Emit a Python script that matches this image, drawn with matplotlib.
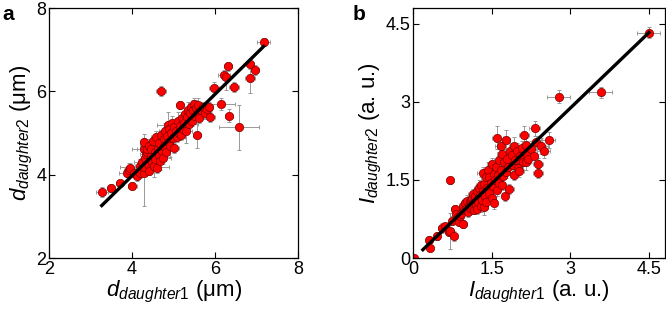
import numpy as np
import matplotlib.pyplot as plt

plt.rcParams['font.family'] = ['Liberation Sans', 'DejaVu Sans']
plt.rcParams['mathtext.fontset'] = 'custom'
plt.rcParams['mathtext.it'] = 'Liberation Sans:italic'
plt.rcParams['mathtext.rm'] = 'Liberation Sans'

# panel a: daughter diameters (um)
d1 = [3.27, 3.50, 3.70, 4.01, 3.88, 3.92, 3.95, 4.05, 4.12, 4.18,
      4.20, 4.25, 4.28, 4.28, 4.30, 4.30, 4.32, 4.34, 4.35, 4.36,
      4.38, 4.40, 4.42, 4.45, 4.46, 4.48, 4.50, 4.52, 4.55, 4.56,
      4.58, 4.60, 4.62, 4.64, 4.66, 4.68, 4.70, 4.70, 4.72, 4.74,
      4.76, 4.78, 4.80, 4.82, 4.84, 4.86, 4.88, 4.90, 4.92, 4.94,
      4.96, 4.98, 5.00, 5.02, 5.05, 5.08, 5.10, 5.12, 5.15, 5.16,
      5.18, 5.20, 5.22, 5.25, 5.28, 5.30, 5.32, 5.35, 5.38, 5.40,
      5.42, 5.45, 5.48, 5.50, 5.52, 5.55, 5.56, 5.58, 5.60, 5.62,
      5.65, 5.70, 5.75, 5.80, 5.85, 5.88, 5.97, 6.14, 6.22, 6.26,
      6.31, 6.33, 6.46, 6.58, 6.84, 6.84, 6.96, 7.17]
d2 = [3.58, 3.68, 3.80, 3.74, 4.05, 4.12, 4.16, 4.05, 3.96, 4.22,
      4.05, 4.30, 4.05, 4.62, 4.78, 4.18, 4.40, 4.50, 4.55, 4.62,
      4.25, 4.70, 4.10, 4.45, 4.62, 4.30, 4.80, 4.20, 4.55, 4.38,
      4.90, 4.15, 4.65, 4.48, 4.75, 4.32, 4.95, 6.00, 4.58, 4.40,
      4.85, 4.70, 5.05, 4.55, 4.92, 5.20, 4.78, 5.10, 4.68, 5.00,
      5.25, 4.88, 5.15, 4.64, 5.05, 4.90, 5.30, 5.00, 5.18, 5.67,
      4.95, 5.35, 5.10, 5.25, 5.45, 5.05, 5.38, 5.55, 5.22, 5.48,
      5.62, 5.30, 5.55, 5.70, 5.40, 5.60, 4.95, 5.50, 5.68, 5.35,
      5.55, 5.62, 5.48, 5.58, 5.62, 5.38, 6.08, 5.70, 6.40, 6.34,
      6.60, 5.42, 6.10, 5.14, 6.32, 6.66, 6.52, 7.18]
d1_err = [0.15, 0.10, 0.08, 0.10, 0.20, 0.12, 0.10, 0.15, 0.10, 0.12,
          0.15, 0.20, 0.10, 0.15, 0.12, 0.60, 0.10, 0.15, 0.10, 0.12,
          0.10, 0.20, 0.10, 0.12, 0.45, 0.10, 0.15, 0.12, 0.10, 0.15,
          0.12, 0.10, 0.20, 0.10, 0.12, 0.10, 0.15, 0.12, 0.10, 0.20,
          0.12, 0.10, 0.15, 0.10, 0.12, 0.25, 0.10, 0.15, 0.12, 0.10,
          0.12, 0.10, 0.15, 0.12, 0.10, 0.20, 0.12, 0.10, 0.15, 0.10,
          0.12, 0.10, 0.15, 0.12, 0.10, 0.15, 0.12, 0.10, 0.20, 0.12,
          0.10, 0.15, 0.12, 0.10, 0.15, 0.12, 0.10, 0.15, 0.10, 0.20,
          0.12, 0.10, 0.15, 0.12, 0.10, 0.12, 0.12, 0.35, 0.15, 0.10,
          0.10, 0.10, 0.12, 0.48, 0.12, 0.10, 0.10, 0.15]
d2_err = [0.12, 0.10, 0.08, 0.08, 0.10, 0.15, 0.12, 0.10, 0.10, 0.15,
          0.12, 0.20, 0.80, 0.25, 0.20, 0.15, 0.10, 0.30, 0.15, 0.10,
          0.12, 0.15, 0.10, 0.20, 0.12, 0.15, 0.10, 0.25, 0.10, 0.12,
          0.15, 0.10, 0.20, 0.15, 0.10, 0.20, 0.12, 0.12, 0.10, 0.15,
          0.12, 0.10, 0.20, 0.12, 0.15, 0.30, 0.10, 0.12, 0.25, 0.10,
          0.15, 0.12, 0.10, 0.12, 0.15, 0.12, 0.20, 0.10, 0.15, 0.10,
          0.12, 0.15, 0.20, 0.10, 0.15, 0.30, 0.12, 0.20, 0.12, 0.15,
          0.10, 0.12, 0.25, 0.15, 0.12, 0.20, 0.30, 0.12, 0.15, 0.12,
          0.10, 0.12, 0.15, 0.10, 0.12, 0.12, 0.15, 0.15, 0.12, 0.30,
          0.10, 0.15, 0.12, 0.54, 0.35, 0.12, 0.12, 0.10]
fit_a_x = [3.27, 7.17]
fit_a_y = [3.26, 7.08]

# panel b: daughter intensities (a. u.)
i1 = [0.02, 0.30, 0.33, 0.46, 0.56, 0.62, 0.68, 0.71, 0.70, 0.75,
      0.78, 0.80, 0.82, 0.85, 0.88, 0.90, 0.92, 0.96, 0.95, 0.98,
      1.00, 1.02, 1.04, 1.05, 1.06, 1.08, 1.08, 1.10, 1.10, 1.12,
      1.12, 1.14, 1.15, 1.16, 1.18, 1.18, 1.20, 1.22, 1.22, 1.24,
      1.25, 1.26, 1.28, 1.30, 1.30, 1.32, 1.33, 1.34, 1.35, 1.36,
      1.38, 1.40, 1.40, 1.42, 1.44, 1.45, 1.46, 1.48, 1.50, 1.50,
      1.52, 1.54, 1.55, 1.56, 1.58, 1.60, 1.61, 1.62, 1.64, 1.65,
      1.67, 1.68, 1.69, 1.70, 1.72, 1.74, 1.75, 1.78, 1.78, 1.80,
      1.82, 1.84, 1.85, 1.88, 1.90, 1.92, 1.93, 1.95, 1.98, 2.00,
      2.03, 2.05, 2.08, 2.10, 2.12, 2.15, 2.16, 2.18, 2.20, 2.25,
      2.30, 2.32, 2.35, 2.38, 2.38, 2.45, 2.49, 2.59, 2.78, 3.58,
      4.50]
i2 = [0.01, 0.34, 0.19, 0.42, 0.58, 0.62, 0.50, 0.52, 1.49, 0.72,
      0.42, 0.94, 0.85, 0.78, 0.70, 0.80, 0.85, 0.65, 1.00, 0.92,
      1.05, 0.95, 1.10, 0.88, 1.00, 1.07, 0.96, 1.12, 1.02, 0.98,
      1.15, 1.06, 1.23, 0.92, 1.10, 1.20, 1.02, 1.28, 0.95, 1.15,
      1.08, 1.35, 1.22, 1.00, 1.40, 1.12, 1.63, 1.28, 0.98, 1.43,
      1.20, 1.55, 1.08, 1.35, 1.70, 1.25, 1.55, 1.45, 1.81, 1.15,
      1.38, 1.62, 1.05, 1.50, 1.75, 1.30, 2.31, 1.60, 1.88, 1.45,
      2.15, 1.70, 1.40, 2.00, 1.58, 1.85, 1.20, 2.27, 1.65, 1.90,
      1.75, 1.33, 2.05, 1.97, 1.78, 1.60, 2.15, 1.88, 2.05, 1.72,
      1.68, 1.95, 2.12, 1.85, 2.36, 2.18, 1.84, 2.00, 1.90, 2.10,
      1.95, 2.49, 2.22, 1.63, 1.81, 2.15, 2.05, 2.27, 3.10, 3.18,
      4.33]
i1_err = [0.06, 0.06, 0.05, 0.06, 0.08, 0.05, 0.06, 0.08, 0.05, 0.06,
          0.06, 0.08, 0.05, 0.06, 0.08, 0.06, 0.05, 0.08, 0.06, 0.10,
          0.08, 0.06, 0.10, 0.08, 0.06, 0.10, 0.08, 0.06, 0.08, 0.10,
          0.06, 0.08, 0.10, 0.06, 0.08, 0.10, 0.06, 0.08, 0.10, 0.06,
          0.08, 0.10, 0.08, 0.06, 0.10, 0.08, 0.10, 0.06, 0.08, 0.10,
          0.08, 0.10, 0.06, 0.08, 0.10, 0.08, 0.06, 0.10, 0.08, 0.06,
          0.10, 0.08, 0.06, 0.10, 0.08, 0.06, 0.10, 0.08, 0.10, 0.06,
          0.10, 0.08, 0.06, 0.10, 0.08, 0.10, 0.06, 0.08, 0.10, 0.08,
          0.10, 0.08, 0.10, 0.10, 0.08, 0.06, 0.10, 0.08, 0.10, 0.06,
          0.08, 0.10, 0.08, 0.10, 0.10, 0.08, 0.10, 0.08, 0.06, 0.10,
          0.08, 0.10, 0.08, 0.10, 0.10, 0.12, 0.12, 0.12, 0.22, 0.22,
          0.22]
i2_err = [0.05, 0.08, 0.06, 0.08, 0.10, 0.06, 0.08, 0.35, 0.06, 0.08,
          0.10, 0.08, 0.06, 0.10, 0.08, 0.06, 0.10, 0.08, 0.10, 0.08,
          0.10, 0.08, 0.12, 0.10, 0.08, 0.12, 0.10, 0.08, 0.12, 0.10,
          0.08, 0.12, 0.10, 0.08, 0.12, 0.10, 0.08, 0.12, 0.10, 0.12,
          0.10, 0.15, 0.10, 0.12, 0.15, 0.10, 0.12, 0.10, 0.15, 0.12,
          0.10, 0.15, 0.12, 0.10, 0.15, 0.12, 0.10, 0.15, 0.12, 0.10,
          0.15, 0.12, 0.10, 0.15, 0.12, 0.10, 0.22, 0.12, 0.15, 0.10,
          0.15, 0.12, 0.10, 0.15, 0.12, 0.15, 0.10, 0.18, 0.12, 0.15,
          0.12, 0.10, 0.15, 0.12, 0.15, 0.10, 0.18, 0.12, 0.15, 0.10,
          0.12, 0.15, 0.12, 0.15, 0.18, 0.12, 0.15, 0.12, 0.10, 0.15,
          0.12, 0.15, 0.12, 0.10, 0.12, 0.15, 0.12, 0.15, 0.12, 0.10,
          0.10]
fit_b_x = [0.19, 4.50]
fit_b_y = [0.16, 4.33]

fig = plt.figure(figsize=(6.66, 3.12), dpi=100)
ax_a = fig.add_axes([0.0736, 0.173, 0.374, 0.801])
ax_b = fig.add_axes([0.620, 0.173, 0.378, 0.801])


def draw_panel(ax, x, y, xe, ye, fx, fy):
    ax.errorbar(x, y, xerr=xe, yerr=ye, fmt='none', ecolor='#999999',
                elinewidth=0.7, capsize=1.6, capthick=0.7, zorder=1)
    ax.plot(x, y, 'o', ms=6, mfc='#ff0000', mec='#7a0000', mew=0.5,
            zorder=2)
    ax.plot(fx, fy, '-', color='black', lw=2.4, zorder=3)
    ax.tick_params(direction='in', length=4, width=0.8, labelsize=13,
                   top=True, right=True, pad=2)
    for s in ax.spines.values():
        s.set_linewidth(0.9)


draw_panel(ax_a, d1, d2, d1_err, d2_err, fit_a_x, fit_a_y)
ax_a.set_xlim(2, 8)
ax_a.set_ylim(2, 8)
ax_a.set_xticks([2, 4, 6, 8])
ax_a.set_yticks([2, 4, 6, 8])
ax_a.set_xlabel(r'$d_{daughter1}$ (μm)', fontsize=16, labelpad=1)
ax_a.set_ylabel(r'$d_{daughter2}$ (μm)', fontsize=16, labelpad=1)

draw_panel(ax_b, i1, i2, i1_err, i2_err, fit_b_x, fit_b_y)
ax_b.set_xlim(0, 4.8)
ax_b.set_ylim(0, 4.8)
ax_b.set_xticks([0, 1.5, 3, 4.5])
ax_b.set_yticks([0, 1.5, 3, 4.5])
ax_b.set_xticklabels(['0', '1.5', '3', '4.5'])
ax_b.set_yticklabels(['0', '1.5', '3', '4.5'])
ax_b.set_xlabel(r'$I_{daughter1}$ (a. u.)', fontsize=16, labelpad=1)
ax_b.set_ylabel(r'$I_{daughter2}$ (a. u.)', fontsize=16, labelpad=1)

fig.text(0.004, 0.955, 'a', fontsize=15, fontweight='bold', va='center')
fig.text(0.530, 0.955, 'b', fontsize=15, fontweight='bold', va='center')

fig.savefig('out.png', dpi=100)
